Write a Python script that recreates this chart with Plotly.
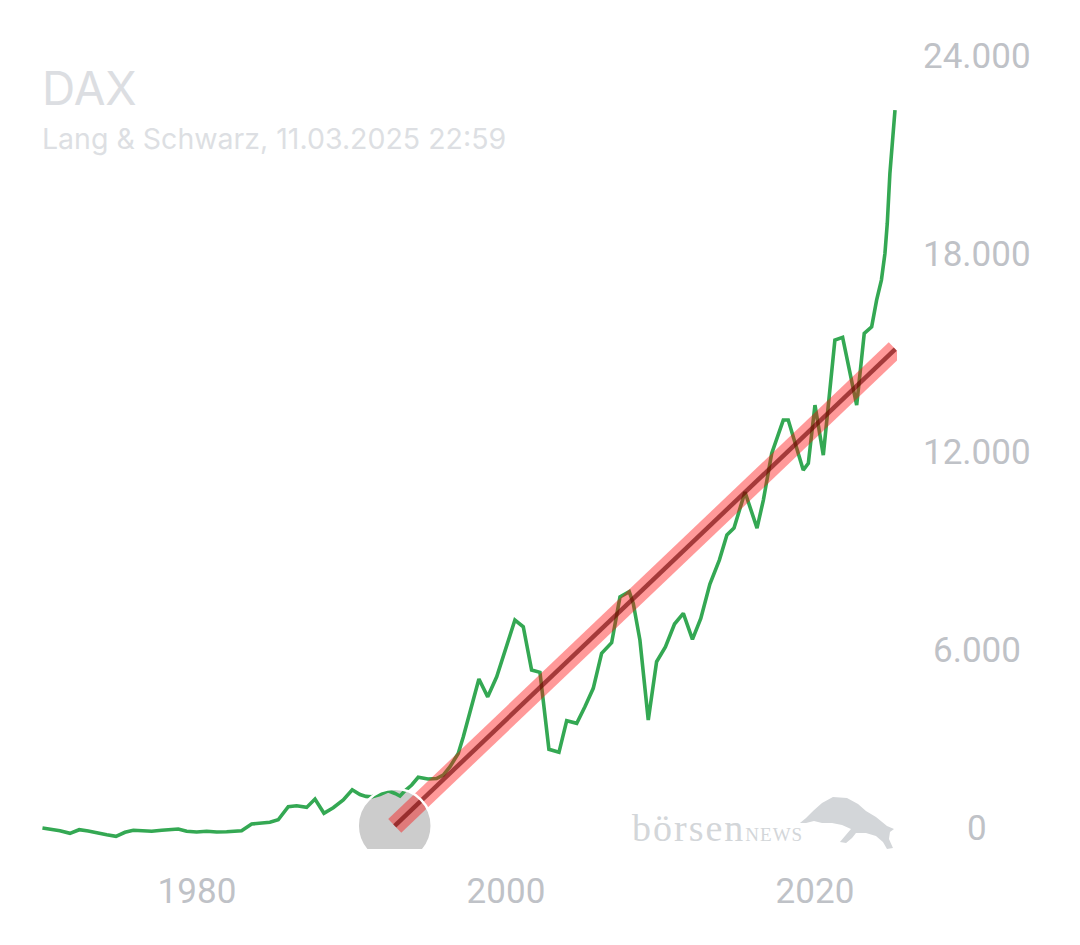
import plotly.graph_objects as go

# ---------------- data ----------------
years = [1970.0, 1971.13, 1971.78, 1972.38, 1972.96, 1973.61, 1974.16, 1974.76, 1975.34, 1975.88,
         1976.52, 1977.07, 1977.72, 1978.25, 1978.79, 1979.33, 1979.98, 1980.63, 1981.28, 1981.92,
         1982.89, 1983.54, 1984.08, 1984.72, 1985.26, 1985.91, 1986.45, 1987.10, 1987.64, 1988.22,
         1988.82, 1989.47, 1990.05, 1990.55, 1990.94, 1991.31, 1991.84, 1992.38, 1992.82, 1993.14,
         1993.46, 1993.90, 1994.32, 1994.95, 1995.51, 1995.94, 1996.38, 1996.91, 1997.24, 1997.67,
         1998.25, 1998.82, 1999.40, 2000.58, 2001.12, 2001.66, 2002.20, 2002.78, 2003.43, 2003.93,
         2004.58, 2005.11, 2005.65, 2006.19, 2006.84, 2007.38, 2007.98, 2008.24, 2008.67, 2009.21,
         2009.75, 2010.32, 2010.91, 2011.48, 2012.07, 2012.61, 2013.20, 2013.81, 2014.30, 2014.76,
         2015.47, 2016.25, 2016.66, 2017.20, 2017.95, 2018.27, 2019.24, 2019.57, 2020.00, 2020.54,
         2021.29, 2021.79, 2022.70, 2023.19, 2023.67, 2023.99, 2024.30, 2024.53, 2024.68, 2024.85,
         2025.18]
dax = [636, 554, 475, 584, 545, 475, 433, 384, 505, 566,
       554, 536, 566, 575, 605, 536, 514, 536, 514, 524,
       554, 757, 787, 808, 884, 1280, 1310, 1259, 1513, 1080,
       1250, 1483, 1794, 1650, 1592, 1579, 1650, 1761, 1680, 1604,
       1761, 1937, 2170, 2118, 2133, 2239, 2490, 2893, 3398, 4103,
       5144, 4605, 5210, 6930, 6727, 5417, 5347, 3017, 2926, 3882,
       3804, 4306, 4863, 5922, 6243, 7626, 7786, 7435, 6324, 3904,
       5668, 6113, 6809, 7132, 6346, 6981, 8019, 8745, 9502, 9713,
       10803, 9713, 10561, 11974, 12982, 12982, 11469, 11671, 13435, 11922,
       15402, 15484, 13435, 15605, 15805, 16613, 17218, 18026, 18931, 20444,
       22362]

trend_years = [1992.8, 2025.2]
trend_values = [700, 15130]

x_tick_vals = [1980, 2000, 2020]
x_tick_text = ["1980", "2000", "2020"]
y_tick_vals = [0, 6000, 12000, 18000, 24000]
y_tick_text = ["0", "6.000", "12.000", "18.000", "24.000"]

title_text = "DAX"
subtitle_text = "Lang & Schwarz, 11.03.2025 22:59"

# ---------------- layout helpers ----------------
W, H = 1080, 945
ML, MR, MT, MB = 42, 183, 56, 96
PW, PH = W - ML - MR, H - MT - MB


def px(x, y):
    return (x - ML) / PW, (H - MB - y) / PH


fig = go.Figure()

fig.add_trace(go.Scatter(x=years, y=dax, mode="lines",
                         line=dict(color="#34a853", width=3.6), hoverinfo="skip"))
fig.add_trace(go.Scatter(x=trend_years, y=trend_values, mode="lines",
                         line=dict(color="rgba(255,0,0,0.40)", width=19), hoverinfo="skip"))
fig.add_trace(go.Scatter(x=trend_years, y=trend_values, mode="lines",
                         line=dict(color="rgba(110,0,0,0.62)", width=4.5), hoverinfo="skip"))

# start-marker circle (gray fill below, white ring above)
fig.add_shape(type="circle", xref="x", yref="y", xsizemode="pixel", ysizemode="pixel",
              xanchor=trend_years[0], yanchor=trend_values[0], x0=-37, x1=37, y0=-37, y1=37,
              fillcolor="#cccccc", line=dict(width=0), layer="below")
fig.add_shape(type="circle", xref="x", yref="y", xsizemode="pixel", ysizemode="pixel",
              xanchor=trend_years[0], yanchor=trend_values[0], x0=-37, x1=37, y0=-37, y1=37,
              fillcolor="rgba(0,0,0,0)", line=dict(width=2.5, color="white"), layer="above")

# y labels (centered column on the right)
for v, t in zip(y_tick_vals, y_tick_text):
    fig.add_annotation(xref="paper", yref="y", x=(977 - ML) / PW, y=v, text=t,
                       showarrow=False, xanchor="center", yanchor="middle",
                       yshift=21 if v == 0 else 0,
                       font=dict(family="Roboto", size=35, color="#bfc2c7"))

# title / subtitle
tx, ty = px(40, 88)
fig.add_annotation(xref="paper", yref="paper", x=tx, y=ty, text=title_text, showarrow=False,
                   xanchor="left", yanchor="middle",
                   font=dict(family="Inter", size=46, color="#dcdee2"))
tx, ty = px(40, 139)
fig.add_annotation(xref="paper", yref="paper", x=tx, y=ty, text=subtitle_text, showarrow=False,
                   xanchor="left", yanchor="middle",
                   font=dict(family="Inter", size=28.5, color="#dddfe3"))

# logo text
lx, ly = px(630, 828)
fig.add_annotation(xref="paper", yref="paper", x=lx, y=ly,
                   text="<span style='letter-spacing:2px'>börsen</span>"
                        "<span style='font-size:19px;letter-spacing:1px'>NEWS</span>",
                   showarrow=False, xanchor="left", yanchor="middle",
                   font=dict(family="Liberation Serif", size=38, color="#d3d6d9"))

# logo bull silhouette
bull = [(800, 823), (806, 818), (813, 811), (822, 803), (833, 797), (847, 798), (858, 804),
        (866, 811), (876, 817), (887, 826), (894, 829), (890, 832), (889, 839), (893, 848),
        (887, 849), (883, 842), (876, 836), (866, 833), (856, 833), (852, 838), (846, 843),
        (840, 842), (845, 836), (851, 829), (842, 825), (832, 823), (822, 823), (814, 821),
        (806, 823)]
pts = [px(a, b) for a, b in bull]
path = "M " + " L ".join(f"{a:.4f},{b:.4f}" for a, b in pts) + " Z"
fig.add_shape(type="path", xref="paper", yref="paper", path=path,
              fillcolor="#d3d6d9", line=dict(width=0), layer="above")

fig.update_layout(
    width=W, height=H, margin=dict(l=ML, r=MR, t=MT, b=MB, pad=0),
    paper_bgcolor="white", plot_bgcolor="white", showlegend=False,
    xaxis=dict(range=[1969.97, 2025.31], tickvals=x_tick_vals, ticktext=x_tick_text,
               showgrid=False, zeroline=False, showline=False, ticks="outside", ticklen=11,
               tickcolor="rgba(0,0,0,0)",
               tickfont=dict(family="Roboto", size=35, color="#bfc2c7")),
    yaxis=dict(range=[0, 24000], showticklabels=False, showgrid=False, zeroline=False,
               showline=False),
)

fig.write_html("out.html")
